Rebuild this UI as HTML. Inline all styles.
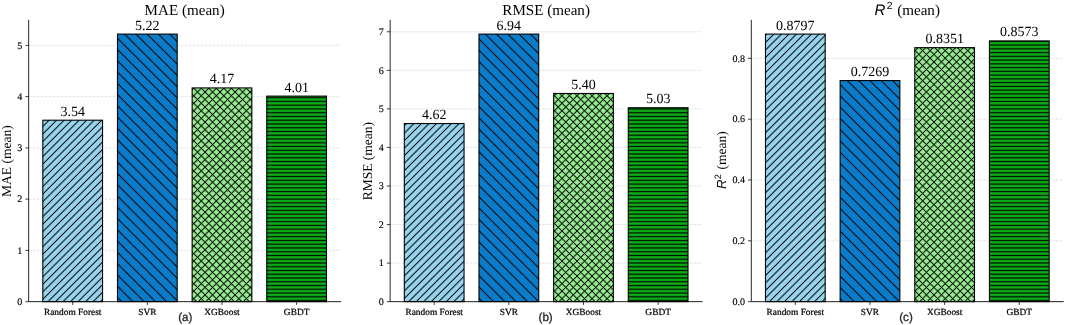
<!DOCTYPE html>
<html><head><meta charset="utf-8"><title>Model comparison</title>
<style>
html,body{margin:0;padding:0;background:#fff;}
body{width:1065px;height:325px;overflow:hidden;}
svg{display:block;will-change:transform;}
text{font-family:"Liberation Serif",serif;fill:#000;text-rendering:geometricPrecision;}
.t{font-size:15.1px;}
.yt{font-size:13.5px;}
.v{font-size:14.0px;}
.xl{font-size:9.4px;stroke:#000;stroke-width:0.22px;}
.yl{font-size:10.05px;stroke:#000;stroke-width:0.15px;}
.tag{font-family:"Liberation Sans",sans-serif;font-size:11.6px;fill:#262626;stroke:#262626;stroke-width:0.3px;}
.ri{font-family:"Liberation Sans",sans-serif;font-style:italic;}
.rs{font-family:"Liberation Sans",sans-serif;}
.tk{stroke:#000;stroke-width:0.76;fill:none;}
.sp{stroke:#000;stroke-width:0.85;fill:none;stroke-linecap:square;}
.gr{stroke:#808080;stroke-opacity:0.30;stroke-width:0.8;stroke-dasharray:2.6 1.4;fill:none;}
</style></head><body>
<svg width="1065" height="325" viewBox="0 0 1065 325">
<rect width="1065" height="325" fill="#fff"/>
<defs><clipPath id="c0_0"><rect x="42.83" y="120.21" width="59.72" height="181.44"/></clipPath><clipPath id="c0_1"><rect x="117.48" y="34.1" width="59.72" height="267.55"/></clipPath><clipPath id="c0_2"><rect x="192.13" y="87.92" width="59.72" height="213.73"/></clipPath><clipPath id="c0_3"><rect x="266.78" y="96.12" width="59.72" height="205.53"/></clipPath><clipPath id="c1_0"><rect x="404.33" y="123.54" width="59.72" height="178.11"/></clipPath><clipPath id="c1_1"><rect x="478.98" y="34.1" width="59.72" height="267.55"/></clipPath><clipPath id="c1_2"><rect x="553.63" y="93.47" width="59.72" height="208.18"/></clipPath><clipPath id="c1_3"><rect x="628.28" y="107.73" width="59.72" height="193.92"/></clipPath><clipPath id="c2_0"><rect x="765.48" y="34.1" width="59.72" height="267.55"/></clipPath><clipPath id="c2_1"><rect x="840.13" y="80.57" width="59.72" height="221.08"/></clipPath><clipPath id="c2_2"><rect x="914.78" y="47.66" width="59.72" height="253.99"/></clipPath><clipPath id="c2_3"><rect x="989.43" y="40.91" width="59.72" height="260.74"/></clipPath></defs>
<path d="M28.65 301.65H340.65" class="gr"/>
<path d="M28.65 250.4H340.65" class="gr"/>
<path d="M28.65 199.14H340.65" class="gr"/>
<path d="M28.65 147.89H340.65" class="gr"/>
<path d="M28.65 96.63H340.65" class="gr"/>
<path d="M28.65 45.38H340.65" class="gr"/>
<path d="M390.15 301.65H702.15" class="gr"/>
<path d="M390.15 263.1H702.15" class="gr"/>
<path d="M390.15 224.55H702.15" class="gr"/>
<path d="M390.15 185.99H702.15" class="gr"/>
<path d="M390.15 147.44H702.15" class="gr"/>
<path d="M390.15 108.89H702.15" class="gr"/>
<path d="M390.15 70.34H702.15" class="gr"/>
<path d="M390.15 31.79H702.15" class="gr"/>
<path d="M751.3 301.65H1063.3" class="gr"/>
<path d="M751.3 240.82H1063.3" class="gr"/>
<path d="M751.3 179.99H1063.3" class="gr"/>
<path d="M751.3 119.17H1063.3" class="gr"/>
<path d="M751.3 58.34H1063.3" class="gr"/>
<rect x="42.83" y="120.21" width="59.72" height="181.44" fill="#98d4ee"/>
<g clip-path="url(#c0_0)" stroke="#000" fill="none"><path d="M-149.39 303.65L36.06 118.21M-141.87 303.65L43.57 118.21M-134.36 303.65L51.08 118.21M-126.84 303.65L58.6 118.21M-119.33 303.65L66.11 118.21M-111.81 303.65L73.63 118.21M-104.3 303.65L81.14 118.21M-96.79 303.65L88.66 118.21M-89.27 303.65L96.17 118.21M-81.76 303.65L103.69 118.21M-74.24 303.65L111.2 118.21M-66.73 303.65L118.71 118.21M-59.21 303.65L126.23 118.21M-51.7 303.65L133.74 118.21M-44.18 303.65L141.26 118.21M-36.67 303.65L148.77 118.21M-29.16 303.65L156.29 118.21M-21.64 303.65L163.8 118.21M-14.13 303.65L171.32 118.21M-6.61 303.65L178.83 118.21M0.9 303.65L186.34 118.21M8.42 303.65L193.86 118.21M15.93 303.65L201.37 118.21M23.45 303.65L208.89 118.21M30.96 303.65L216.4 118.21M38.47 303.65L223.92 118.21M45.99 303.65L231.43 118.21M53.5 303.65L238.95 118.21M61.02 303.65L246.46 118.21M68.53 303.65L253.97 118.21M76.05 303.65L261.49 118.21M83.56 303.65L269 118.21M91.08 303.65L276.52 118.21M98.59 303.65L284.03 118.21M106.1 303.65L291.55 118.21M113.62 303.65L299.06 118.21" stroke-width="2.05" stroke-opacity="0.22"/><path d="M-149.39 303.65L36.06 118.21M-141.87 303.65L43.57 118.21M-134.36 303.65L51.08 118.21M-126.84 303.65L58.6 118.21M-119.33 303.65L66.11 118.21M-111.81 303.65L73.63 118.21M-104.3 303.65L81.14 118.21M-96.79 303.65L88.66 118.21M-89.27 303.65L96.17 118.21M-81.76 303.65L103.69 118.21M-74.24 303.65L111.2 118.21M-66.73 303.65L118.71 118.21M-59.21 303.65L126.23 118.21M-51.7 303.65L133.74 118.21M-44.18 303.65L141.26 118.21M-36.67 303.65L148.77 118.21M-29.16 303.65L156.29 118.21M-21.64 303.65L163.8 118.21M-14.13 303.65L171.32 118.21M-6.61 303.65L178.83 118.21M0.9 303.65L186.34 118.21M8.42 303.65L193.86 118.21M15.93 303.65L201.37 118.21M23.45 303.65L208.89 118.21M30.96 303.65L216.4 118.21M38.47 303.65L223.92 118.21M45.99 303.65L231.43 118.21M53.5 303.65L238.95 118.21M61.02 303.65L246.46 118.21M68.53 303.65L253.97 118.21M76.05 303.65L261.49 118.21M83.56 303.65L269 118.21M91.08 303.65L276.52 118.21M98.59 303.65L284.03 118.21M106.1 303.65L291.55 118.21M113.62 303.65L299.06 118.21" stroke-width="1"/></g>
<rect x="42.83" y="120.21" width="59.72" height="181.44" fill="none" stroke="#000" stroke-width="1.1"/>
<text class="v" x="72.69" y="115.71" text-anchor="middle">3.54</text>
<path d="M72.69 301.65V304.95" class="tk"/>
<text class="xl" x="72.69" y="314.8" text-anchor="middle">Random Forest</text>
<rect x="117.48" y="34.1" width="59.72" height="267.55" fill="#0a7cc9"/>
<g clip-path="url(#c0_1)" stroke="#000" fill="none"><path d="M-170.45 32.1L101.1 303.65M-159.18 32.1L112.38 303.65M-147.9 32.1L123.65 303.65M-136.63 32.1L134.92 303.65M-125.36 32.1L146.19 303.65M-114.09 32.1L157.46 303.65M-102.82 32.1L168.73 303.65M-91.55 32.1L180 303.65M-80.27 32.1L191.28 303.65M-69 32.1L202.55 303.65M-57.73 32.1L213.82 303.65M-46.46 32.1L225.09 303.65M-35.19 32.1L236.36 303.65M-23.92 32.1L247.63 303.65M-12.64 32.1L258.91 303.65M-1.37 32.1L270.18 303.65M9.9 32.1L281.45 303.65M21.17 32.1L292.72 303.65M32.44 32.1L303.99 303.65M43.71 32.1L315.26 303.65M54.99 32.1L326.54 303.65M66.26 32.1L337.81 303.65M77.53 32.1L349.08 303.65M88.8 32.1L360.35 303.65M100.07 32.1L371.62 303.65M111.34 32.1L382.89 303.65M122.62 32.1L394.17 303.65M133.89 32.1L405.44 303.65M145.16 32.1L416.71 303.65M156.43 32.1L427.98 303.65M167.7 32.1L439.25 303.65M178.97 32.1L450.52 303.65M190.25 32.1L461.8 303.65" stroke-width="2.05" stroke-opacity="0.22"/><path d="M-170.45 32.1L101.1 303.65M-159.18 32.1L112.38 303.65M-147.9 32.1L123.65 303.65M-136.63 32.1L134.92 303.65M-125.36 32.1L146.19 303.65M-114.09 32.1L157.46 303.65M-102.82 32.1L168.73 303.65M-91.55 32.1L180 303.65M-80.27 32.1L191.28 303.65M-69 32.1L202.55 303.65M-57.73 32.1L213.82 303.65M-46.46 32.1L225.09 303.65M-35.19 32.1L236.36 303.65M-23.92 32.1L247.63 303.65M-12.64 32.1L258.91 303.65M-1.37 32.1L270.18 303.65M9.9 32.1L281.45 303.65M21.17 32.1L292.72 303.65M32.44 32.1L303.99 303.65M43.71 32.1L315.26 303.65M54.99 32.1L326.54 303.65M66.26 32.1L337.81 303.65M77.53 32.1L349.08 303.65M88.8 32.1L360.35 303.65M100.07 32.1L371.62 303.65M111.34 32.1L382.89 303.65M122.62 32.1L394.17 303.65M133.89 32.1L405.44 303.65M145.16 32.1L416.71 303.65M156.43 32.1L427.98 303.65M167.7 32.1L439.25 303.65M178.97 32.1L450.52 303.65M190.25 32.1L461.8 303.65" stroke-width="1"/></g>
<rect x="117.48" y="34.1" width="59.72" height="267.55" fill="none" stroke="#000" stroke-width="1.1"/>
<text class="v" x="147.34" y="29.6" text-anchor="middle">5.22</text>
<path d="M147.34 301.65V304.95" class="tk"/>
<text class="xl" x="147.34" y="314.8" text-anchor="middle">SVR</text>
<rect x="192.13" y="87.92" width="59.72" height="213.73" fill="#96ee90"/>
<g clip-path="url(#c0_2)" stroke="#000" fill="none"><path d="M-36.67 303.65L181.06 85.92M-29.16 303.65L188.58 85.92M-21.64 303.65L196.09 85.92M-14.13 303.65L203.61 85.92M-6.61 303.65L211.12 85.92M0.9 303.65L218.63 85.92M8.42 303.65L226.15 85.92M15.93 303.65L233.66 85.92M23.45 303.65L241.18 85.92M30.96 303.65L248.69 85.92M38.47 303.65L256.21 85.92M45.99 303.65L263.72 85.92M53.5 303.65L271.24 85.92M61.02 303.65L278.75 85.92M68.53 303.65L286.26 85.92M76.05 303.65L293.78 85.92M83.56 303.65L301.29 85.92M91.08 303.65L308.81 85.92M98.59 303.65L316.32 85.92M106.1 303.65L323.84 85.92M113.62 303.65L331.35 85.92M121.13 303.65L338.87 85.92M128.65 303.65L346.38 85.92M136.16 303.65L353.89 85.92M143.68 303.65L361.41 85.92M151.19 303.65L368.92 85.92M158.71 303.65L376.44 85.92M166.22 303.65L383.95 85.92M173.73 303.65L391.47 85.92M181.25 303.65L398.98 85.92M188.76 303.65L406.5 85.92M196.28 303.65L414.01 85.92M203.79 303.65L421.52 85.92M211.31 303.65L429.04 85.92M218.82 303.65L436.55 85.92M226.34 303.65L444.07 85.92M233.85 303.65L451.58 85.92M241.36 303.65L459.1 85.92M248.88 303.65L466.61 85.92M256.39 303.65L474.13 85.92M263.91 303.65L481.64 85.92M-33.97 85.92L183.76 303.65M-26.46 85.92L191.28 303.65M-18.94 85.92L198.79 303.65M-11.43 85.92L206.31 303.65M-3.91 85.92L213.82 303.65M3.6 85.92L221.33 303.65M11.12 85.92L228.85 303.65M18.63 85.92L236.36 303.65M26.15 85.92L243.88 303.65M33.66 85.92L251.39 303.65M41.17 85.92L258.91 303.65M48.69 85.92L266.42 303.65M56.2 85.92L273.94 303.65M63.72 85.92L281.45 303.65M71.23 85.92L288.96 303.65M78.75 85.92L296.48 303.65M86.26 85.92L303.99 303.65M93.78 85.92L311.51 303.65M101.29 85.92L319.02 303.65M108.8 85.92L326.54 303.65M116.32 85.92L334.05 303.65M123.83 85.92L341.57 303.65M131.35 85.92L349.08 303.65M138.86 85.92L356.59 303.65M146.38 85.92L364.11 303.65M153.89 85.92L371.62 303.65M161.41 85.92L379.14 303.65M168.92 85.92L386.65 303.65M176.43 85.92L394.17 303.65M183.95 85.92L401.68 303.65M191.46 85.92L409.2 303.65M198.98 85.92L416.71 303.65M206.49 85.92L424.22 303.65M214.01 85.92L431.74 303.65M221.52 85.92L439.25 303.65M229.04 85.92L446.77 303.65M236.55 85.92L454.28 303.65M244.06 85.92L461.8 303.65M251.58 85.92L469.31 303.65M259.09 85.92L476.83 303.65" stroke-width="2.05" stroke-opacity="0.22"/><path d="M-36.67 303.65L181.06 85.92M-29.16 303.65L188.58 85.92M-21.64 303.65L196.09 85.92M-14.13 303.65L203.61 85.92M-6.61 303.65L211.12 85.92M0.9 303.65L218.63 85.92M8.42 303.65L226.15 85.92M15.93 303.65L233.66 85.92M23.45 303.65L241.18 85.92M30.96 303.65L248.69 85.92M38.47 303.65L256.21 85.92M45.99 303.65L263.72 85.92M53.5 303.65L271.24 85.92M61.02 303.65L278.75 85.92M68.53 303.65L286.26 85.92M76.05 303.65L293.78 85.92M83.56 303.65L301.29 85.92M91.08 303.65L308.81 85.92M98.59 303.65L316.32 85.92M106.1 303.65L323.84 85.92M113.62 303.65L331.35 85.92M121.13 303.65L338.87 85.92M128.65 303.65L346.38 85.92M136.16 303.65L353.89 85.92M143.68 303.65L361.41 85.92M151.19 303.65L368.92 85.92M158.71 303.65L376.44 85.92M166.22 303.65L383.95 85.92M173.73 303.65L391.47 85.92M181.25 303.65L398.98 85.92M188.76 303.65L406.5 85.92M196.28 303.65L414.01 85.92M203.79 303.65L421.52 85.92M211.31 303.65L429.04 85.92M218.82 303.65L436.55 85.92M226.34 303.65L444.07 85.92M233.85 303.65L451.58 85.92M241.36 303.65L459.1 85.92M248.88 303.65L466.61 85.92M256.39 303.65L474.13 85.92M263.91 303.65L481.64 85.92M-33.97 85.92L183.76 303.65M-26.46 85.92L191.28 303.65M-18.94 85.92L198.79 303.65M-11.43 85.92L206.31 303.65M-3.91 85.92L213.82 303.65M3.6 85.92L221.33 303.65M11.12 85.92L228.85 303.65M18.63 85.92L236.36 303.65M26.15 85.92L243.88 303.65M33.66 85.92L251.39 303.65M41.17 85.92L258.91 303.65M48.69 85.92L266.42 303.65M56.2 85.92L273.94 303.65M63.72 85.92L281.45 303.65M71.23 85.92L288.96 303.65M78.75 85.92L296.48 303.65M86.26 85.92L303.99 303.65M93.78 85.92L311.51 303.65M101.29 85.92L319.02 303.65M108.8 85.92L326.54 303.65M116.32 85.92L334.05 303.65M123.83 85.92L341.57 303.65M131.35 85.92L349.08 303.65M138.86 85.92L356.59 303.65M146.38 85.92L364.11 303.65M153.89 85.92L371.62 303.65M161.41 85.92L379.14 303.65M168.92 85.92L386.65 303.65M176.43 85.92L394.17 303.65M183.95 85.92L401.68 303.65M191.46 85.92L409.2 303.65M198.98 85.92L416.71 303.65M206.49 85.92L424.22 303.65M214.01 85.92L431.74 303.65M221.52 85.92L439.25 303.65M229.04 85.92L446.77 303.65M236.55 85.92L454.28 303.65M244.06 85.92L461.8 303.65M251.58 85.92L469.31 303.65M259.09 85.92L476.83 303.65" stroke-width="1"/></g>
<rect x="192.13" y="87.92" width="59.72" height="213.73" fill="none" stroke="#000" stroke-width="1.1"/>
<text class="v" x="221.99" y="83.42" text-anchor="middle">4.17</text>
<path d="M221.99 301.65V304.95" class="tk"/>
<text class="xl" x="221.99" y="314.8" text-anchor="middle">XGBoost</text>
<rect x="266.78" y="96.12" width="59.72" height="205.53" fill="#0caa16"/>
<g clip-path="url(#c0_3)" stroke="#000" fill="none"><path d="M264.78 90.15L328.5 90.15M264.78 93.91L328.5 93.91M264.78 97.66L328.5 97.66M264.78 101.42L328.5 101.42M264.78 105.18L328.5 105.18M264.78 108.93L328.5 108.93M264.78 112.69L328.5 112.69M264.78 116.45L328.5 116.45M264.78 120.21L328.5 120.21M264.78 123.96L328.5 123.96M264.78 127.72L328.5 127.72M264.78 131.48L328.5 131.48M264.78 135.24L328.5 135.24M264.78 138.99L328.5 138.99M264.78 142.75L328.5 142.75M264.78 146.51L328.5 146.51M264.78 150.26L328.5 150.26M264.78 154.02L328.5 154.02M264.78 157.78L328.5 157.78M264.78 161.54L328.5 161.54M264.78 165.29L328.5 165.29M264.78 169.05L328.5 169.05M264.78 172.81L328.5 172.81M264.78 176.56L328.5 176.56M264.78 180.32L328.5 180.32M264.78 184.08L328.5 184.08M264.78 187.84L328.5 187.84M264.78 191.59L328.5 191.59M264.78 195.35L328.5 195.35M264.78 199.11L328.5 199.11M264.78 202.87L328.5 202.87M264.78 206.62L328.5 206.62M264.78 210.38L328.5 210.38M264.78 214.14L328.5 214.14M264.78 217.89L328.5 217.89M264.78 221.65L328.5 221.65M264.78 225.41L328.5 225.41M264.78 229.17L328.5 229.17M264.78 232.92L328.5 232.92M264.78 236.68L328.5 236.68M264.78 240.44L328.5 240.44M264.78 244.19L328.5 244.19M264.78 247.95L328.5 247.95M264.78 251.71L328.5 251.71M264.78 255.47L328.5 255.47M264.78 259.22L328.5 259.22M264.78 262.98L328.5 262.98M264.78 266.74L328.5 266.74M264.78 270.5L328.5 270.5M264.78 274.25L328.5 274.25M264.78 278.01L328.5 278.01M264.78 281.77L328.5 281.77M264.78 285.52L328.5 285.52M264.78 289.28L328.5 289.28M264.78 293.04L328.5 293.04M264.78 296.8L328.5 296.8M264.78 300.55L328.5 300.55M264.78 304.31L328.5 304.31M264.78 308.07L328.5 308.07" stroke-width="1.9" stroke-opacity="0.22"/><path d="M264.78 90.15L328.5 90.15M264.78 93.91L328.5 93.91M264.78 97.66L328.5 97.66M264.78 101.42L328.5 101.42M264.78 105.18L328.5 105.18M264.78 108.93L328.5 108.93M264.78 112.69L328.5 112.69M264.78 116.45L328.5 116.45M264.78 120.21L328.5 120.21M264.78 123.96L328.5 123.96M264.78 127.72L328.5 127.72M264.78 131.48L328.5 131.48M264.78 135.24L328.5 135.24M264.78 138.99L328.5 138.99M264.78 142.75L328.5 142.75M264.78 146.51L328.5 146.51M264.78 150.26L328.5 150.26M264.78 154.02L328.5 154.02M264.78 157.78L328.5 157.78M264.78 161.54L328.5 161.54M264.78 165.29L328.5 165.29M264.78 169.05L328.5 169.05M264.78 172.81L328.5 172.81M264.78 176.56L328.5 176.56M264.78 180.32L328.5 180.32M264.78 184.08L328.5 184.08M264.78 187.84L328.5 187.84M264.78 191.59L328.5 191.59M264.78 195.35L328.5 195.35M264.78 199.11L328.5 199.11M264.78 202.87L328.5 202.87M264.78 206.62L328.5 206.62M264.78 210.38L328.5 210.38M264.78 214.14L328.5 214.14M264.78 217.89L328.5 217.89M264.78 221.65L328.5 221.65M264.78 225.41L328.5 225.41M264.78 229.17L328.5 229.17M264.78 232.92L328.5 232.92M264.78 236.68L328.5 236.68M264.78 240.44L328.5 240.44M264.78 244.19L328.5 244.19M264.78 247.95L328.5 247.95M264.78 251.71L328.5 251.71M264.78 255.47L328.5 255.47M264.78 259.22L328.5 259.22M264.78 262.98L328.5 262.98M264.78 266.74L328.5 266.74M264.78 270.5L328.5 270.5M264.78 274.25L328.5 274.25M264.78 278.01L328.5 278.01M264.78 281.77L328.5 281.77M264.78 285.52L328.5 285.52M264.78 289.28L328.5 289.28M264.78 293.04L328.5 293.04M264.78 296.8L328.5 296.8M264.78 300.55L328.5 300.55M264.78 304.31L328.5 304.31M264.78 308.07L328.5 308.07" stroke-width="0.85"/></g>
<rect x="266.78" y="96.12" width="59.72" height="205.53" fill="none" stroke="#000" stroke-width="1.1"/>
<text class="v" x="296.64" y="91.62" text-anchor="middle">4.01</text>
<path d="M296.64 301.65V304.95" class="tk"/>
<text class="xl" x="296.64" y="314.8" text-anchor="middle">GBDT</text>
<path d="M25.35 301.65H28.65" class="tk"/>
<text class="yl" x="22.35" y="304.95" text-anchor="end">0</text>
<path d="M25.35 250.4H28.65" class="tk"/>
<text class="yl" x="22.35" y="253.7" text-anchor="end">1</text>
<path d="M25.35 199.14H28.65" class="tk"/>
<text class="yl" x="22.35" y="202.44" text-anchor="end">2</text>
<path d="M25.35 147.89H28.65" class="tk"/>
<text class="yl" x="22.35" y="151.19" text-anchor="end">3</text>
<path d="M25.35 96.63H28.65" class="tk"/>
<text class="yl" x="22.35" y="99.93" text-anchor="end">4</text>
<path d="M25.35 45.38H28.65" class="tk"/>
<text class="yl" x="22.35" y="48.68" text-anchor="end">5</text>
<path d="M28.65 20.3V301.65H340.65" class="sp"/>
<text class="t" x="184.65" y="14.7" text-anchor="middle">MAE (mean)</text>
<text class="yt" transform="translate(10.75 161.17) rotate(-90)" text-anchor="middle">MAE (mean)</text>
<text class="tag" x="185.25" y="320.7" text-anchor="middle">(a)</text>
<rect x="404.33" y="123.54" width="59.72" height="178.11" fill="#98d4ee"/>
<g clip-path="url(#c1_0)" stroke="#000" fill="none"><path d="M211.31 303.65L393.42 121.54M218.82 303.65L400.93 121.54M226.34 303.65L408.45 121.54M233.85 303.65L415.96 121.54M241.36 303.65L423.47 121.54M248.88 303.65L430.99 121.54M256.39 303.65L438.5 121.54M263.91 303.65L446.02 121.54M271.42 303.65L453.53 121.54M278.94 303.65L461.05 121.54M286.45 303.65L468.56 121.54M293.97 303.65L476.08 121.54M301.48 303.65L483.59 121.54M308.99 303.65L491.1 121.54M316.51 303.65L498.62 121.54M324.02 303.65L506.13 121.54M331.54 303.65L513.65 121.54M339.05 303.65L521.16 121.54M346.57 303.65L528.68 121.54M354.08 303.65L536.19 121.54M361.6 303.65L543.71 121.54M369.11 303.65L551.22 121.54M376.62 303.65L558.73 121.54M384.14 303.65L566.25 121.54M391.65 303.65L573.76 121.54M399.17 303.65L581.28 121.54M406.68 303.65L588.79 121.54M414.2 303.65L596.31 121.54M421.71 303.65L603.82 121.54M429.23 303.65L611.34 121.54M436.74 303.65L618.85 121.54M444.25 303.65L626.36 121.54M451.77 303.65L633.88 121.54M459.28 303.65L641.39 121.54M466.8 303.65L648.91 121.54M474.31 303.65L656.42 121.54" stroke-width="2.05" stroke-opacity="0.22"/><path d="M211.31 303.65L393.42 121.54M218.82 303.65L400.93 121.54M226.34 303.65L408.45 121.54M233.85 303.65L415.96 121.54M241.36 303.65L423.47 121.54M248.88 303.65L430.99 121.54M256.39 303.65L438.5 121.54M263.91 303.65L446.02 121.54M271.42 303.65L453.53 121.54M278.94 303.65L461.05 121.54M286.45 303.65L468.56 121.54M293.97 303.65L476.08 121.54M301.48 303.65L483.59 121.54M308.99 303.65L491.1 121.54M316.51 303.65L498.62 121.54M324.02 303.65L506.13 121.54M331.54 303.65L513.65 121.54M339.05 303.65L521.16 121.54M346.57 303.65L528.68 121.54M354.08 303.65L536.19 121.54M361.6 303.65L543.71 121.54M369.11 303.65L551.22 121.54M376.62 303.65L558.73 121.54M384.14 303.65L566.25 121.54M391.65 303.65L573.76 121.54M399.17 303.65L581.28 121.54M406.68 303.65L588.79 121.54M414.2 303.65L596.31 121.54M421.71 303.65L603.82 121.54M429.23 303.65L611.34 121.54M436.74 303.65L618.85 121.54M444.25 303.65L626.36 121.54M451.77 303.65L633.88 121.54M459.28 303.65L641.39 121.54M466.8 303.65L648.91 121.54M474.31 303.65L656.42 121.54" stroke-width="1"/></g>
<rect x="404.33" y="123.54" width="59.72" height="178.11" fill="none" stroke="#000" stroke-width="1.1"/>
<text class="v" x="434.19" y="119.04" text-anchor="middle">4.62</text>
<path d="M434.19 301.65V304.95" class="tk"/>
<text class="xl" x="434.19" y="314.8" text-anchor="middle">Random Forest</text>
<rect x="478.98" y="34.1" width="59.72" height="267.55" fill="#0a7cc9"/>
<g clip-path="url(#c1_1)" stroke="#000" fill="none"><path d="M190.25 32.1L461.8 303.65M201.52 32.1L473.07 303.65M212.79 32.1L484.34 303.65M224.06 32.1L495.61 303.65M235.33 32.1L506.88 303.65M246.6 32.1L518.15 303.65M257.88 32.1L529.43 303.65M269.15 32.1L540.7 303.65M280.42 32.1L551.97 303.65M291.69 32.1L563.24 303.65M302.96 32.1L574.51 303.65M314.23 32.1L585.78 303.65M325.51 32.1L597.06 303.65M336.78 32.1L608.33 303.65M348.05 32.1L619.6 303.65M359.32 32.1L630.87 303.65M370.59 32.1L642.14 303.65M381.86 32.1L653.41 303.65M393.14 32.1L664.69 303.65M404.41 32.1L675.96 303.65M415.68 32.1L687.23 303.65M426.95 32.1L698.5 303.65M438.22 32.1L709.77 303.65M449.49 32.1L721.04 303.65M460.77 32.1L732.32 303.65M472.04 32.1L743.59 303.65M483.31 32.1L754.86 303.65M494.58 32.1L766.13 303.65M505.85 32.1L777.4 303.65M517.12 32.1L788.67 303.65M528.4 32.1L799.95 303.65M539.67 32.1L811.22 303.65M550.94 32.1L822.49 303.65" stroke-width="2.05" stroke-opacity="0.22"/><path d="M190.25 32.1L461.8 303.65M201.52 32.1L473.07 303.65M212.79 32.1L484.34 303.65M224.06 32.1L495.61 303.65M235.33 32.1L506.88 303.65M246.6 32.1L518.15 303.65M257.88 32.1L529.43 303.65M269.15 32.1L540.7 303.65M280.42 32.1L551.97 303.65M291.69 32.1L563.24 303.65M302.96 32.1L574.51 303.65M314.23 32.1L585.78 303.65M325.51 32.1L597.06 303.65M336.78 32.1L608.33 303.65M348.05 32.1L619.6 303.65M359.32 32.1L630.87 303.65M370.59 32.1L642.14 303.65M381.86 32.1L653.41 303.65M393.14 32.1L664.69 303.65M404.41 32.1L675.96 303.65M415.68 32.1L687.23 303.65M426.95 32.1L698.5 303.65M438.22 32.1L709.77 303.65M449.49 32.1L721.04 303.65M460.77 32.1L732.32 303.65M472.04 32.1L743.59 303.65M483.31 32.1L754.86 303.65M494.58 32.1L766.13 303.65M505.85 32.1L777.4 303.65M517.12 32.1L788.67 303.65M528.4 32.1L799.95 303.65M539.67 32.1L811.22 303.65M550.94 32.1L822.49 303.65" stroke-width="1"/></g>
<rect x="478.98" y="34.1" width="59.72" height="267.55" fill="none" stroke="#000" stroke-width="1.1"/>
<text class="v" x="508.84" y="29.6" text-anchor="middle">6.94</text>
<path d="M508.84 301.65V304.95" class="tk"/>
<text class="xl" x="508.84" y="314.8" text-anchor="middle">SVR</text>
<rect x="553.63" y="93.47" width="59.72" height="208.18" fill="#96ee90"/>
<g clip-path="url(#c1_2)" stroke="#000" fill="none"><path d="M331.54 303.65L543.72 91.47M339.05 303.65L551.23 91.47M346.57 303.65L558.75 91.47M354.08 303.65L566.26 91.47M361.6 303.65L573.78 91.47M369.11 303.65L581.29 91.47M376.62 303.65L588.8 91.47M384.14 303.65L596.32 91.47M391.65 303.65L603.83 91.47M399.17 303.65L611.35 91.47M406.68 303.65L618.86 91.47M414.2 303.65L626.38 91.47M421.71 303.65L633.89 91.47M429.23 303.65L641.41 91.47M436.74 303.65L648.92 91.47M444.25 303.65L656.43 91.47M451.77 303.65L663.95 91.47M459.28 303.65L671.46 91.47M466.8 303.65L678.98 91.47M474.31 303.65L686.49 91.47M481.83 303.65L694.01 91.47M489.34 303.65L701.52 91.47M496.86 303.65L709.04 91.47M504.37 303.65L716.55 91.47M511.88 303.65L724.06 91.47M519.4 303.65L731.58 91.47M526.91 303.65L739.09 91.47M534.43 303.65L746.61 91.47M541.94 303.65L754.12 91.47M549.46 303.65L761.64 91.47M556.97 303.65L769.15 91.47M564.49 303.65L776.67 91.47M572 303.65L784.18 91.47M579.51 303.65L791.69 91.47M587.03 303.65L799.21 91.47M594.54 303.65L806.72 91.47M602.06 303.65L814.24 91.47M609.57 303.65L821.75 91.47M617.09 303.65L829.27 91.47M624.6 303.65L836.78 91.47M332.28 91.47L544.46 303.65M339.79 91.47L551.97 303.65M347.3 91.47L559.48 303.65M354.82 91.47L567 303.65M362.33 91.47L574.51 303.65M369.85 91.47L582.03 303.65M377.36 91.47L589.54 303.65M384.88 91.47L597.06 303.65M392.39 91.47L604.57 303.65M399.91 91.47L612.09 303.65M407.42 91.47L619.6 303.65M414.93 91.47L627.11 303.65M422.45 91.47L634.63 303.65M429.96 91.47L642.14 303.65M437.48 91.47L649.66 303.65M444.99 91.47L657.17 303.65M452.51 91.47L664.69 303.65M460.02 91.47L672.2 303.65M467.54 91.47L679.72 303.65M475.05 91.47L687.23 303.65M482.56 91.47L694.74 303.65M490.08 91.47L702.26 303.65M497.59 91.47L709.77 303.65M505.11 91.47L717.29 303.65M512.62 91.47L724.8 303.65M520.14 91.47L732.32 303.65M527.65 91.47L739.83 303.65M535.17 91.47L747.35 303.65M542.68 91.47L754.86 303.65M550.19 91.47L762.37 303.65M557.71 91.47L769.89 303.65M565.22 91.47L777.4 303.65M572.74 91.47L784.92 303.65M580.25 91.47L792.43 303.65M587.77 91.47L799.95 303.65M595.28 91.47L807.46 303.65M602.8 91.47L814.98 303.65M610.31 91.47L822.49 303.65M617.82 91.47L830 303.65M625.34 91.47L837.52 303.65" stroke-width="2.05" stroke-opacity="0.22"/><path d="M331.54 303.65L543.72 91.47M339.05 303.65L551.23 91.47M346.57 303.65L558.75 91.47M354.08 303.65L566.26 91.47M361.6 303.65L573.78 91.47M369.11 303.65L581.29 91.47M376.62 303.65L588.8 91.47M384.14 303.65L596.32 91.47M391.65 303.65L603.83 91.47M399.17 303.65L611.35 91.47M406.68 303.65L618.86 91.47M414.2 303.65L626.38 91.47M421.71 303.65L633.89 91.47M429.23 303.65L641.41 91.47M436.74 303.65L648.92 91.47M444.25 303.65L656.43 91.47M451.77 303.65L663.95 91.47M459.28 303.65L671.46 91.47M466.8 303.65L678.98 91.47M474.31 303.65L686.49 91.47M481.83 303.65L694.01 91.47M489.34 303.65L701.52 91.47M496.86 303.65L709.04 91.47M504.37 303.65L716.55 91.47M511.88 303.65L724.06 91.47M519.4 303.65L731.58 91.47M526.91 303.65L739.09 91.47M534.43 303.65L746.61 91.47M541.94 303.65L754.12 91.47M549.46 303.65L761.64 91.47M556.97 303.65L769.15 91.47M564.49 303.65L776.67 91.47M572 303.65L784.18 91.47M579.51 303.65L791.69 91.47M587.03 303.65L799.21 91.47M594.54 303.65L806.72 91.47M602.06 303.65L814.24 91.47M609.57 303.65L821.75 91.47M617.09 303.65L829.27 91.47M624.6 303.65L836.78 91.47M332.28 91.47L544.46 303.65M339.79 91.47L551.97 303.65M347.3 91.47L559.48 303.65M354.82 91.47L567 303.65M362.33 91.47L574.51 303.65M369.85 91.47L582.03 303.65M377.36 91.47L589.54 303.65M384.88 91.47L597.06 303.65M392.39 91.47L604.57 303.65M399.91 91.47L612.09 303.65M407.42 91.47L619.6 303.65M414.93 91.47L627.11 303.65M422.45 91.47L634.63 303.65M429.96 91.47L642.14 303.65M437.48 91.47L649.66 303.65M444.99 91.47L657.17 303.65M452.51 91.47L664.69 303.65M460.02 91.47L672.2 303.65M467.54 91.47L679.72 303.65M475.05 91.47L687.23 303.65M482.56 91.47L694.74 303.65M490.08 91.47L702.26 303.65M497.59 91.47L709.77 303.65M505.11 91.47L717.29 303.65M512.62 91.47L724.8 303.65M520.14 91.47L732.32 303.65M527.65 91.47L739.83 303.65M535.17 91.47L747.35 303.65M542.68 91.47L754.86 303.65M550.19 91.47L762.37 303.65M557.71 91.47L769.89 303.65M565.22 91.47L777.4 303.65M572.74 91.47L784.92 303.65M580.25 91.47L792.43 303.65M587.77 91.47L799.95 303.65M595.28 91.47L807.46 303.65M602.8 91.47L814.98 303.65M610.31 91.47L822.49 303.65M617.82 91.47L830 303.65M625.34 91.47L837.52 303.65" stroke-width="1"/></g>
<rect x="553.63" y="93.47" width="59.72" height="208.18" fill="none" stroke="#000" stroke-width="1.1"/>
<text class="v" x="583.49" y="88.97" text-anchor="middle">5.40</text>
<path d="M583.49 301.65V304.95" class="tk"/>
<text class="xl" x="583.49" y="314.8" text-anchor="middle">XGBoost</text>
<rect x="628.28" y="107.73" width="59.72" height="193.92" fill="#0caa16"/>
<g clip-path="url(#c1_3)" stroke="#000" fill="none"><path d="M626.28 101.42L690 101.42M626.28 105.18L690 105.18M626.28 108.93L690 108.93M626.28 112.69L690 112.69M626.28 116.45L690 116.45M626.28 120.21L690 120.21M626.28 123.96L690 123.96M626.28 127.72L690 127.72M626.28 131.48L690 131.48M626.28 135.24L690 135.24M626.28 138.99L690 138.99M626.28 142.75L690 142.75M626.28 146.51L690 146.51M626.28 150.26L690 150.26M626.28 154.02L690 154.02M626.28 157.78L690 157.78M626.28 161.54L690 161.54M626.28 165.29L690 165.29M626.28 169.05L690 169.05M626.28 172.81L690 172.81M626.28 176.56L690 176.56M626.28 180.32L690 180.32M626.28 184.08L690 184.08M626.28 187.84L690 187.84M626.28 191.59L690 191.59M626.28 195.35L690 195.35M626.28 199.11L690 199.11M626.28 202.87L690 202.87M626.28 206.62L690 206.62M626.28 210.38L690 210.38M626.28 214.14L690 214.14M626.28 217.89L690 217.89M626.28 221.65L690 221.65M626.28 225.41L690 225.41M626.28 229.17L690 229.17M626.28 232.92L690 232.92M626.28 236.68L690 236.68M626.28 240.44L690 240.44M626.28 244.19L690 244.19M626.28 247.95L690 247.95M626.28 251.71L690 251.71M626.28 255.47L690 255.47M626.28 259.22L690 259.22M626.28 262.98L690 262.98M626.28 266.74L690 266.74M626.28 270.5L690 270.5M626.28 274.25L690 274.25M626.28 278.01L690 278.01M626.28 281.77L690 281.77M626.28 285.52L690 285.52M626.28 289.28L690 289.28M626.28 293.04L690 293.04M626.28 296.8L690 296.8M626.28 300.55L690 300.55M626.28 304.31L690 304.31M626.28 308.07L690 308.07" stroke-width="1.9" stroke-opacity="0.22"/><path d="M626.28 101.42L690 101.42M626.28 105.18L690 105.18M626.28 108.93L690 108.93M626.28 112.69L690 112.69M626.28 116.45L690 116.45M626.28 120.21L690 120.21M626.28 123.96L690 123.96M626.28 127.72L690 127.72M626.28 131.48L690 131.48M626.28 135.24L690 135.24M626.28 138.99L690 138.99M626.28 142.75L690 142.75M626.28 146.51L690 146.51M626.28 150.26L690 150.26M626.28 154.02L690 154.02M626.28 157.78L690 157.78M626.28 161.54L690 161.54M626.28 165.29L690 165.29M626.28 169.05L690 169.05M626.28 172.81L690 172.81M626.28 176.56L690 176.56M626.28 180.32L690 180.32M626.28 184.08L690 184.08M626.28 187.84L690 187.84M626.28 191.59L690 191.59M626.28 195.35L690 195.35M626.28 199.11L690 199.11M626.28 202.87L690 202.87M626.28 206.62L690 206.62M626.28 210.38L690 210.38M626.28 214.14L690 214.14M626.28 217.89L690 217.89M626.28 221.65L690 221.65M626.28 225.41L690 225.41M626.28 229.17L690 229.17M626.28 232.92L690 232.92M626.28 236.68L690 236.68M626.28 240.44L690 240.44M626.28 244.19L690 244.19M626.28 247.95L690 247.95M626.28 251.71L690 251.71M626.28 255.47L690 255.47M626.28 259.22L690 259.22M626.28 262.98L690 262.98M626.28 266.74L690 266.74M626.28 270.5L690 270.5M626.28 274.25L690 274.25M626.28 278.01L690 278.01M626.28 281.77L690 281.77M626.28 285.52L690 285.52M626.28 289.28L690 289.28M626.28 293.04L690 293.04M626.28 296.8L690 296.8M626.28 300.55L690 300.55M626.28 304.31L690 304.31M626.28 308.07L690 308.07" stroke-width="0.85"/></g>
<rect x="628.28" y="107.73" width="59.72" height="193.92" fill="none" stroke="#000" stroke-width="1.1"/>
<text class="v" x="658.14" y="103.23" text-anchor="middle">5.03</text>
<path d="M658.14 301.65V304.95" class="tk"/>
<text class="xl" x="658.14" y="314.8" text-anchor="middle">GBDT</text>
<path d="M386.85 301.65H390.15" class="tk"/>
<text class="yl" x="383.85" y="304.95" text-anchor="end">0</text>
<path d="M386.85 263.1H390.15" class="tk"/>
<text class="yl" x="383.85" y="266.4" text-anchor="end">1</text>
<path d="M386.85 224.55H390.15" class="tk"/>
<text class="yl" x="383.85" y="227.85" text-anchor="end">2</text>
<path d="M386.85 185.99H390.15" class="tk"/>
<text class="yl" x="383.85" y="189.29" text-anchor="end">3</text>
<path d="M386.85 147.44H390.15" class="tk"/>
<text class="yl" x="383.85" y="150.74" text-anchor="end">4</text>
<path d="M386.85 108.89H390.15" class="tk"/>
<text class="yl" x="383.85" y="112.19" text-anchor="end">5</text>
<path d="M386.85 70.34H390.15" class="tk"/>
<text class="yl" x="383.85" y="73.64" text-anchor="end">6</text>
<path d="M386.85 31.79H390.15" class="tk"/>
<text class="yl" x="383.85" y="35.09" text-anchor="end">7</text>
<path d="M390.15 20.3V301.65H702.15" class="sp"/>
<text class="t" x="546.15" y="14.7" text-anchor="middle">RMSE (mean)</text>
<text class="yt" transform="translate(372.25 161.17) rotate(-90)" text-anchor="middle">RMSE (mean)</text>
<text class="tag" x="545.65" y="320.7" text-anchor="middle">(b)</text>
<rect x="765.48" y="34.1" width="59.72" height="267.55" fill="#98d4ee"/>
<g clip-path="url(#c2_0)" stroke="#000" fill="none"><path d="M481.83 303.65L753.38 32.1M489.34 303.65L760.89 32.1M496.86 303.65L768.41 32.1M504.37 303.65L775.92 32.1M511.88 303.65L783.43 32.1M519.4 303.65L790.95 32.1M526.91 303.65L798.46 32.1M534.43 303.65L805.98 32.1M541.94 303.65L813.49 32.1M549.46 303.65L821.01 32.1M556.97 303.65L828.52 32.1M564.49 303.65L836.04 32.1M572 303.65L843.55 32.1M579.51 303.65L851.06 32.1M587.03 303.65L858.58 32.1M594.54 303.65L866.09 32.1M602.06 303.65L873.61 32.1M609.57 303.65L881.12 32.1M617.09 303.65L888.64 32.1M624.6 303.65L896.15 32.1M632.12 303.65L903.67 32.1M639.63 303.65L911.18 32.1M647.14 303.65L918.69 32.1M654.66 303.65L926.21 32.1M662.17 303.65L933.72 32.1M669.69 303.65L941.24 32.1M677.2 303.65L948.75 32.1M684.72 303.65L956.27 32.1M692.23 303.65L963.78 32.1M699.75 303.65L971.3 32.1M707.26 303.65L978.81 32.1M714.77 303.65L986.32 32.1M722.29 303.65L993.84 32.1M729.8 303.65L1001.35 32.1M737.32 303.65L1008.87 32.1M744.83 303.65L1016.38 32.1M752.35 303.65L1023.9 32.1M759.86 303.65L1031.41 32.1M767.38 303.65L1038.93 32.1M774.89 303.65L1046.44 32.1M782.4 303.65L1053.95 32.1M789.92 303.65L1061.47 32.1M797.43 303.65L1068.98 32.1M804.95 303.65L1076.5 32.1M812.46 303.65L1084.01 32.1M819.98 303.65L1091.53 32.1M827.49 303.65L1099.04 32.1M835.01 303.65L1106.56 32.1" stroke-width="2.05" stroke-opacity="0.22"/><path d="M481.83 303.65L753.38 32.1M489.34 303.65L760.89 32.1M496.86 303.65L768.41 32.1M504.37 303.65L775.92 32.1M511.88 303.65L783.43 32.1M519.4 303.65L790.95 32.1M526.91 303.65L798.46 32.1M534.43 303.65L805.98 32.1M541.94 303.65L813.49 32.1M549.46 303.65L821.01 32.1M556.97 303.65L828.52 32.1M564.49 303.65L836.04 32.1M572 303.65L843.55 32.1M579.51 303.65L851.06 32.1M587.03 303.65L858.58 32.1M594.54 303.65L866.09 32.1M602.06 303.65L873.61 32.1M609.57 303.65L881.12 32.1M617.09 303.65L888.64 32.1M624.6 303.65L896.15 32.1M632.12 303.65L903.67 32.1M639.63 303.65L911.18 32.1M647.14 303.65L918.69 32.1M654.66 303.65L926.21 32.1M662.17 303.65L933.72 32.1M669.69 303.65L941.24 32.1M677.2 303.65L948.75 32.1M684.72 303.65L956.27 32.1M692.23 303.65L963.78 32.1M699.75 303.65L971.3 32.1M707.26 303.65L978.81 32.1M714.77 303.65L986.32 32.1M722.29 303.65L993.84 32.1M729.8 303.65L1001.35 32.1M737.32 303.65L1008.87 32.1M744.83 303.65L1016.38 32.1M752.35 303.65L1023.9 32.1M759.86 303.65L1031.41 32.1M767.38 303.65L1038.93 32.1M774.89 303.65L1046.44 32.1M782.4 303.65L1053.95 32.1M789.92 303.65L1061.47 32.1M797.43 303.65L1068.98 32.1M804.95 303.65L1076.5 32.1M812.46 303.65L1084.01 32.1M819.98 303.65L1091.53 32.1M827.49 303.65L1099.04 32.1M835.01 303.65L1106.56 32.1" stroke-width="1"/></g>
<rect x="765.48" y="34.1" width="59.72" height="267.55" fill="none" stroke="#000" stroke-width="1.1"/>
<text class="v" x="795.34" y="29.6" text-anchor="middle">0.8797</text>
<path d="M795.34 301.65V304.95" class="tk"/>
<text class="xl" x="795.34" y="314.8" text-anchor="middle">Random Forest</text>
<rect x="840.13" y="80.57" width="59.72" height="221.08" fill="#0a7cc9"/>
<g clip-path="url(#c2_1)" stroke="#000" fill="none"><path d="M597.41 78.57L822.49 303.65M608.68 78.57L833.76 303.65M619.96 78.57L845.03 303.65M631.23 78.57L856.3 303.65M642.5 78.57L867.58 303.65M653.77 78.57L878.85 303.65M665.04 78.57L890.12 303.65M676.31 78.57L901.39 303.65M687.59 78.57L912.66 303.65M698.86 78.57L923.93 303.65M710.13 78.57L935.21 303.65M721.4 78.57L946.48 303.65M732.67 78.57L957.75 303.65M743.94 78.57L969.02 303.65M755.22 78.57L980.29 303.65M766.49 78.57L991.56 303.65M777.76 78.57L1002.84 303.65M789.03 78.57L1014.11 303.65M800.3 78.57L1025.38 303.65M811.57 78.57L1036.65 303.65M822.85 78.57L1047.92 303.65M834.12 78.57L1059.19 303.65M845.39 78.57L1070.47 303.65M856.66 78.57L1081.74 303.65M867.93 78.57L1093.01 303.65M879.2 78.57L1104.28 303.65M890.48 78.57L1115.55 303.65M901.75 78.57L1126.82 303.65M913.02 78.57L1138.1 303.65" stroke-width="2.05" stroke-opacity="0.22"/><path d="M597.41 78.57L822.49 303.65M608.68 78.57L833.76 303.65M619.96 78.57L845.03 303.65M631.23 78.57L856.3 303.65M642.5 78.57L867.58 303.65M653.77 78.57L878.85 303.65M665.04 78.57L890.12 303.65M676.31 78.57L901.39 303.65M687.59 78.57L912.66 303.65M698.86 78.57L923.93 303.65M710.13 78.57L935.21 303.65M721.4 78.57L946.48 303.65M732.67 78.57L957.75 303.65M743.94 78.57L969.02 303.65M755.22 78.57L980.29 303.65M766.49 78.57L991.56 303.65M777.76 78.57L1002.84 303.65M789.03 78.57L1014.11 303.65M800.3 78.57L1025.38 303.65M811.57 78.57L1036.65 303.65M822.85 78.57L1047.92 303.65M834.12 78.57L1059.19 303.65M845.39 78.57L1070.47 303.65M856.66 78.57L1081.74 303.65M867.93 78.57L1093.01 303.65M879.2 78.57L1104.28 303.65M890.48 78.57L1115.55 303.65M901.75 78.57L1126.82 303.65M913.02 78.57L1138.1 303.65" stroke-width="1"/></g>
<rect x="840.13" y="80.57" width="59.72" height="221.08" fill="none" stroke="#000" stroke-width="1.1"/>
<text class="v" x="869.99" y="76.07" text-anchor="middle">0.7269</text>
<path d="M869.99 301.65V304.95" class="tk"/>
<text class="xl" x="869.99" y="314.8" text-anchor="middle">SVR</text>
<rect x="914.78" y="47.66" width="59.72" height="253.99" fill="#96ee90"/>
<g clip-path="url(#c2_2)" stroke="#000" fill="none"><path d="M647.14 303.65L905.13 45.66M654.66 303.65L912.64 45.66M662.17 303.65L920.16 45.66M669.69 303.65L927.67 45.66M677.2 303.65L935.19 45.66M684.72 303.65L942.7 45.66M692.23 303.65L950.22 45.66M699.75 303.65L957.73 45.66M707.26 303.65L965.25 45.66M714.77 303.65L972.76 45.66M722.29 303.65L980.27 45.66M729.8 303.65L987.79 45.66M737.32 303.65L995.3 45.66M744.83 303.65L1002.82 45.66M752.35 303.65L1010.33 45.66M759.86 303.65L1017.85 45.66M767.38 303.65L1025.36 45.66M774.89 303.65L1032.88 45.66M782.4 303.65L1040.39 45.66M789.92 303.65L1047.9 45.66M797.43 303.65L1055.42 45.66M804.95 303.65L1062.93 45.66M812.46 303.65L1070.45 45.66M819.98 303.65L1077.96 45.66M827.49 303.65L1085.48 45.66M835.01 303.65L1092.99 45.66M842.52 303.65L1100.51 45.66M850.03 303.65L1108.02 45.66M857.55 303.65L1115.53 45.66M865.06 303.65L1123.05 45.66M872.58 303.65L1130.56 45.66M880.09 303.65L1138.08 45.66M887.61 303.65L1145.59 45.66M895.12 303.65L1153.11 45.66M902.64 303.65L1160.62 45.66M910.15 303.65L1168.14 45.66M917.66 303.65L1175.65 45.66M925.18 303.65L1183.16 45.66M932.69 303.65L1190.68 45.66M940.21 303.65L1198.19 45.66M947.72 303.65L1205.71 45.66M955.24 303.65L1213.22 45.66M962.75 303.65L1220.74 45.66M970.27 303.65L1228.25 45.66M977.78 303.65L1235.77 45.66M985.29 303.65L1243.28 45.66M647.16 45.66L905.15 303.65M654.68 45.66L912.66 303.65M662.19 45.66L920.18 303.65M669.71 45.66L927.69 303.65M677.22 45.66L935.21 303.65M684.74 45.66L942.72 303.65M692.25 45.66L950.24 303.65M699.76 45.66L957.75 303.65M707.28 45.66L965.26 303.65M714.79 45.66L972.78 303.65M722.31 45.66L980.29 303.65M729.82 45.66L987.81 303.65M737.34 45.66L995.32 303.65M744.85 45.66L1002.84 303.65M752.37 45.66L1010.35 303.65M759.88 45.66L1017.87 303.65M767.39 45.66L1025.38 303.65M774.91 45.66L1032.89 303.65M782.42 45.66L1040.41 303.65M789.94 45.66L1047.92 303.65M797.45 45.66L1055.44 303.65M804.97 45.66L1062.95 303.65M812.48 45.66L1070.47 303.65M820 45.66L1077.98 303.65M827.51 45.66L1085.5 303.65M835.02 45.66L1093.01 303.65M842.54 45.66L1100.52 303.65M850.05 45.66L1108.04 303.65M857.57 45.66L1115.55 303.65M865.08 45.66L1123.07 303.65M872.6 45.66L1130.58 303.65M880.11 45.66L1138.1 303.65M887.63 45.66L1145.61 303.65M895.14 45.66L1153.13 303.65M902.65 45.66L1160.64 303.65M910.17 45.66L1168.15 303.65M917.68 45.66L1175.67 303.65M925.2 45.66L1183.18 303.65M932.71 45.66L1190.7 303.65M940.23 45.66L1198.21 303.65M947.74 45.66L1205.73 303.65M955.26 45.66L1213.24 303.65M962.77 45.66L1220.76 303.65M970.28 45.66L1228.27 303.65M977.8 45.66L1235.78 303.65M985.31 45.66L1243.3 303.65" stroke-width="2.05" stroke-opacity="0.22"/><path d="M647.14 303.65L905.13 45.66M654.66 303.65L912.64 45.66M662.17 303.65L920.16 45.66M669.69 303.65L927.67 45.66M677.2 303.65L935.19 45.66M684.72 303.65L942.7 45.66M692.23 303.65L950.22 45.66M699.75 303.65L957.73 45.66M707.26 303.65L965.25 45.66M714.77 303.65L972.76 45.66M722.29 303.65L980.27 45.66M729.8 303.65L987.79 45.66M737.32 303.65L995.3 45.66M744.83 303.65L1002.82 45.66M752.35 303.65L1010.33 45.66M759.86 303.65L1017.85 45.66M767.38 303.65L1025.36 45.66M774.89 303.65L1032.88 45.66M782.4 303.65L1040.39 45.66M789.92 303.65L1047.9 45.66M797.43 303.65L1055.42 45.66M804.95 303.65L1062.93 45.66M812.46 303.65L1070.45 45.66M819.98 303.65L1077.96 45.66M827.49 303.65L1085.48 45.66M835.01 303.65L1092.99 45.66M842.52 303.65L1100.51 45.66M850.03 303.65L1108.02 45.66M857.55 303.65L1115.53 45.66M865.06 303.65L1123.05 45.66M872.58 303.65L1130.56 45.66M880.09 303.65L1138.08 45.66M887.61 303.65L1145.59 45.66M895.12 303.65L1153.11 45.66M902.64 303.65L1160.62 45.66M910.15 303.65L1168.14 45.66M917.66 303.65L1175.65 45.66M925.18 303.65L1183.16 45.66M932.69 303.65L1190.68 45.66M940.21 303.65L1198.19 45.66M947.72 303.65L1205.71 45.66M955.24 303.65L1213.22 45.66M962.75 303.65L1220.74 45.66M970.27 303.65L1228.25 45.66M977.78 303.65L1235.77 45.66M985.29 303.65L1243.28 45.66M647.16 45.66L905.15 303.65M654.68 45.66L912.66 303.65M662.19 45.66L920.18 303.65M669.71 45.66L927.69 303.65M677.22 45.66L935.21 303.65M684.74 45.66L942.72 303.65M692.25 45.66L950.24 303.65M699.76 45.66L957.75 303.65M707.28 45.66L965.26 303.65M714.79 45.66L972.78 303.65M722.31 45.66L980.29 303.65M729.82 45.66L987.81 303.65M737.34 45.66L995.32 303.65M744.85 45.66L1002.84 303.65M752.37 45.66L1010.35 303.65M759.88 45.66L1017.87 303.65M767.39 45.66L1025.38 303.65M774.91 45.66L1032.89 303.65M782.42 45.66L1040.41 303.65M789.94 45.66L1047.92 303.65M797.45 45.66L1055.44 303.65M804.97 45.66L1062.95 303.65M812.48 45.66L1070.47 303.65M820 45.66L1077.98 303.65M827.51 45.66L1085.5 303.65M835.02 45.66L1093.01 303.65M842.54 45.66L1100.52 303.65M850.05 45.66L1108.04 303.65M857.57 45.66L1115.55 303.65M865.08 45.66L1123.07 303.65M872.6 45.66L1130.58 303.65M880.11 45.66L1138.1 303.65M887.63 45.66L1145.61 303.65M895.14 45.66L1153.13 303.65M902.65 45.66L1160.64 303.65M910.17 45.66L1168.15 303.65M917.68 45.66L1175.67 303.65M925.2 45.66L1183.18 303.65M932.71 45.66L1190.7 303.65M940.23 45.66L1198.21 303.65M947.74 45.66L1205.73 303.65M955.26 45.66L1213.24 303.65M962.77 45.66L1220.76 303.65M970.28 45.66L1228.27 303.65M977.8 45.66L1235.78 303.65M985.31 45.66L1243.3 303.65" stroke-width="1"/></g>
<rect x="914.78" y="47.66" width="59.72" height="253.99" fill="none" stroke="#000" stroke-width="1.1"/>
<text class="v" x="944.64" y="43.16" text-anchor="middle">0.8351</text>
<path d="M944.64 301.65V304.95" class="tk"/>
<text class="xl" x="944.64" y="314.8" text-anchor="middle">XGBoost</text>
<rect x="989.43" y="40.91" width="59.72" height="260.74" fill="#0caa16"/>
<g clip-path="url(#c2_3)" stroke="#000" fill="none"><path d="M987.43 33.79L1051.15 33.79M987.43 37.55L1051.15 37.55M987.43 41.3L1051.15 41.3M987.43 45.06L1051.15 45.06M987.43 48.82L1051.15 48.82M987.43 52.58L1051.15 52.58M987.43 56.33L1051.15 56.33M987.43 60.09L1051.15 60.09M987.43 63.85L1051.15 63.85M987.43 67.61L1051.15 67.61M987.43 71.36L1051.15 71.36M987.43 75.12L1051.15 75.12M987.43 78.88L1051.15 78.88M987.43 82.63L1051.15 82.63M987.43 86.39L1051.15 86.39M987.43 90.15L1051.15 90.15M987.43 93.91L1051.15 93.91M987.43 97.66L1051.15 97.66M987.43 101.42L1051.15 101.42M987.43 105.18L1051.15 105.18M987.43 108.93L1051.15 108.93M987.43 112.69L1051.15 112.69M987.43 116.45L1051.15 116.45M987.43 120.21L1051.15 120.21M987.43 123.96L1051.15 123.96M987.43 127.72L1051.15 127.72M987.43 131.48L1051.15 131.48M987.43 135.24L1051.15 135.24M987.43 138.99L1051.15 138.99M987.43 142.75L1051.15 142.75M987.43 146.51L1051.15 146.51M987.43 150.26L1051.15 150.26M987.43 154.02L1051.15 154.02M987.43 157.78L1051.15 157.78M987.43 161.54L1051.15 161.54M987.43 165.29L1051.15 165.29M987.43 169.05L1051.15 169.05M987.43 172.81L1051.15 172.81M987.43 176.56L1051.15 176.56M987.43 180.32L1051.15 180.32M987.43 184.08L1051.15 184.08M987.43 187.84L1051.15 187.84M987.43 191.59L1051.15 191.59M987.43 195.35L1051.15 195.35M987.43 199.11L1051.15 199.11M987.43 202.87L1051.15 202.87M987.43 206.62L1051.15 206.62M987.43 210.38L1051.15 210.38M987.43 214.14L1051.15 214.14M987.43 217.89L1051.15 217.89M987.43 221.65L1051.15 221.65M987.43 225.41L1051.15 225.41M987.43 229.17L1051.15 229.17M987.43 232.92L1051.15 232.92M987.43 236.68L1051.15 236.68M987.43 240.44L1051.15 240.44M987.43 244.19L1051.15 244.19M987.43 247.95L1051.15 247.95M987.43 251.71L1051.15 251.71M987.43 255.47L1051.15 255.47M987.43 259.22L1051.15 259.22M987.43 262.98L1051.15 262.98M987.43 266.74L1051.15 266.74M987.43 270.5L1051.15 270.5M987.43 274.25L1051.15 274.25M987.43 278.01L1051.15 278.01M987.43 281.77L1051.15 281.77M987.43 285.52L1051.15 285.52M987.43 289.28L1051.15 289.28M987.43 293.04L1051.15 293.04M987.43 296.8L1051.15 296.8M987.43 300.55L1051.15 300.55M987.43 304.31L1051.15 304.31M987.43 308.07L1051.15 308.07" stroke-width="1.9" stroke-opacity="0.22"/><path d="M987.43 33.79L1051.15 33.79M987.43 37.55L1051.15 37.55M987.43 41.3L1051.15 41.3M987.43 45.06L1051.15 45.06M987.43 48.82L1051.15 48.82M987.43 52.58L1051.15 52.58M987.43 56.33L1051.15 56.33M987.43 60.09L1051.15 60.09M987.43 63.85L1051.15 63.85M987.43 67.61L1051.15 67.61M987.43 71.36L1051.15 71.36M987.43 75.12L1051.15 75.12M987.43 78.88L1051.15 78.88M987.43 82.63L1051.15 82.63M987.43 86.39L1051.15 86.39M987.43 90.15L1051.15 90.15M987.43 93.91L1051.15 93.91M987.43 97.66L1051.15 97.66M987.43 101.42L1051.15 101.42M987.43 105.18L1051.15 105.18M987.43 108.93L1051.15 108.93M987.43 112.69L1051.15 112.69M987.43 116.45L1051.15 116.45M987.43 120.21L1051.15 120.21M987.43 123.96L1051.15 123.96M987.43 127.72L1051.15 127.72M987.43 131.48L1051.15 131.48M987.43 135.24L1051.15 135.24M987.43 138.99L1051.15 138.99M987.43 142.75L1051.15 142.75M987.43 146.51L1051.15 146.51M987.43 150.26L1051.15 150.26M987.43 154.02L1051.15 154.02M987.43 157.78L1051.15 157.78M987.43 161.54L1051.15 161.54M987.43 165.29L1051.15 165.29M987.43 169.05L1051.15 169.05M987.43 172.81L1051.15 172.81M987.43 176.56L1051.15 176.56M987.43 180.32L1051.15 180.32M987.43 184.08L1051.15 184.08M987.43 187.84L1051.15 187.84M987.43 191.59L1051.15 191.59M987.43 195.35L1051.15 195.35M987.43 199.11L1051.15 199.11M987.43 202.87L1051.15 202.87M987.43 206.62L1051.15 206.62M987.43 210.38L1051.15 210.38M987.43 214.14L1051.15 214.14M987.43 217.89L1051.15 217.89M987.43 221.65L1051.15 221.65M987.43 225.41L1051.15 225.41M987.43 229.17L1051.15 229.17M987.43 232.92L1051.15 232.92M987.43 236.68L1051.15 236.68M987.43 240.44L1051.15 240.44M987.43 244.19L1051.15 244.19M987.43 247.95L1051.15 247.95M987.43 251.71L1051.15 251.71M987.43 255.47L1051.15 255.47M987.43 259.22L1051.15 259.22M987.43 262.98L1051.15 262.98M987.43 266.74L1051.15 266.74M987.43 270.5L1051.15 270.5M987.43 274.25L1051.15 274.25M987.43 278.01L1051.15 278.01M987.43 281.77L1051.15 281.77M987.43 285.52L1051.15 285.52M987.43 289.28L1051.15 289.28M987.43 293.04L1051.15 293.04M987.43 296.8L1051.15 296.8M987.43 300.55L1051.15 300.55M987.43 304.31L1051.15 304.31M987.43 308.07L1051.15 308.07" stroke-width="0.85"/></g>
<rect x="989.43" y="40.91" width="59.72" height="260.74" fill="none" stroke="#000" stroke-width="1.1"/>
<text class="v" x="1019.29" y="36.41" text-anchor="middle">0.8573</text>
<path d="M1019.29 301.65V304.95" class="tk"/>
<text class="xl" x="1019.29" y="314.8" text-anchor="middle">GBDT</text>
<path d="M748 301.65H751.3" class="tk"/>
<text class="yl" x="745" y="304.95" text-anchor="end">0.0</text>
<path d="M748 240.82H751.3" class="tk"/>
<text class="yl" x="745" y="244.12" text-anchor="end">0.2</text>
<path d="M748 179.99H751.3" class="tk"/>
<text class="yl" x="745" y="183.29" text-anchor="end">0.4</text>
<path d="M748 119.17H751.3" class="tk"/>
<text class="yl" x="745" y="122.47" text-anchor="end">0.6</text>
<path d="M748 58.34H751.3" class="tk"/>
<text class="yl" x="745" y="61.64" text-anchor="end">0.8</text>
<path d="M751.3 20.3V301.65H1063.3" class="sp"/>
<text x="874.4" y="14.8" class="ri" style="font-size:15.1px">R</text>
<text x="886.8" y="8.8" class="rs" style="font-size:10.4px">2</text>
<text class="t" x="897.2" y="14.7">(mean)</text>
<g transform="translate(726.2 160) rotate(-90)"><text x="-29.1" y="0" class="ri" style="font-size:13.2px">R</text><text x="-19.2" y="-5" class="rs" style="font-size:9.3px">2</text><text class="yt" x="-9.4" y="0">(mean)</text></g>
<text class="tag" x="906" y="320.7" text-anchor="middle">(c)</text>
</svg>
</body></html>
